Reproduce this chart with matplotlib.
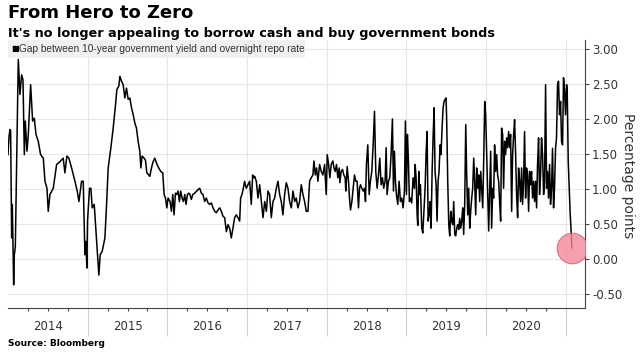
import matplotlib.pyplot as plt
from matplotlib.patches import Rectangle
from matplotlib.ticker import FixedLocator, NullFormatter
import matplotlib.transforms as mtransforms

# Gap between 10-year government yield and overnight repo rate (percentage points)
years = [
    2014.000, 2014.013, 2014.025, 2014.033, 2014.042, 2014.046, 2014.054, 2014.063, 2014.071, 2014.079,
    2014.092, 2014.129, 2014.150, 2014.171, 2014.188, 2014.205, 2014.217, 2014.238, 2014.255, 2014.284,
    2014.309, 2014.330, 2014.351, 2014.380, 2014.409, 2014.443, 2014.464, 2014.489, 2014.505, 2014.526,
    2014.568, 2014.610, 2014.652, 2014.693, 2014.714, 2014.739, 2014.764, 2014.798, 2014.840, 2014.869,
    2014.890, 2014.923, 2014.944, 2014.965, 2014.977, 2014.990,
    2014.998, 2015.023, 2015.040, 2015.057, 2015.082, 2015.099, 2015.124, 2015.140, 2015.157, 2015.182,
    2015.216, 2015.237, 2015.257, 2015.291, 2015.320, 2015.349, 2015.366, 2015.391, 2015.404, 2015.424,
    2015.445, 2015.466, 2015.487, 2015.508, 2015.529, 2015.550, 2015.571, 2015.592, 2015.612, 2015.633,
    2015.654, 2015.667, 2015.683, 2015.708, 2015.725, 2015.742, 2015.759, 2015.780, 2015.800, 2015.821,
    2015.842, 2015.863, 2015.892, 2015.917, 2015.942, 2015.959, 2015.976, 2015.993, 2016.009, 2016.034,
    2016.051, 2016.068,
    2016.084, 2016.101, 2016.117, 2016.134, 2016.151, 2016.167, 2016.184, 2016.201, 2016.218, 2016.234,
    2016.251, 2016.268, 2016.284, 2016.301, 2016.318, 2016.343, 2016.368, 2016.385, 2016.406, 2016.426,
    2016.447, 2016.468, 2016.489, 2016.510, 2016.531, 2016.552, 2016.573, 2016.594, 2016.614, 2016.635,
    2016.656, 2016.677, 2016.698, 2016.719, 2016.740, 2016.761, 2016.781, 2016.802, 2016.823, 2016.844,
    2016.865, 2016.886, 2016.907, 2016.919, 2016.936, 2016.953, 2016.969, 2016.990, 2017.011, 2017.032,
    2017.053, 2017.070, 2017.086,
    2017.095, 2017.116, 2017.137, 2017.158, 2017.179, 2017.200, 2017.221, 2017.242, 2017.262, 2017.283,
    2017.304, 2017.325, 2017.346, 2017.367, 2017.388, 2017.409, 2017.429, 2017.450, 2017.471, 2017.492,
    2017.513, 2017.534, 2017.555, 2017.576, 2017.597, 2017.617, 2017.638, 2017.659, 2017.680, 2017.701,
    2017.722, 2017.743, 2017.764, 2017.785, 2017.805, 2017.826, 2017.839, 2017.856, 2017.872, 2017.889,
    2017.910, 2017.931, 2017.952, 2017.973, 2017.993, 2018.006, 2018.023, 2018.039, 2018.056, 2018.077,
    2018.090,
    2018.106, 2018.122, 2018.139, 2018.156, 2018.164, 2018.181, 2018.198, 2018.214, 2018.231, 2018.239,
    2018.256, 2018.273, 2018.285, 2018.298, 2018.315, 2018.331, 2018.348, 2018.365, 2018.381, 2018.398,
    2018.411, 2018.423, 2018.440, 2018.457, 2018.473, 2018.486, 2018.498, 2018.515, 2018.532, 2018.548,
    2018.565, 2018.582, 2018.599, 2018.615, 2018.632, 2018.649, 2018.665, 2018.682, 2018.699, 2018.715,
    2018.732, 2018.745, 2018.757, 2018.774, 2018.791, 2018.807, 2018.824, 2018.837, 2018.849, 2018.862,
    2018.874, 2018.891, 2018.908, 2018.924, 2018.941, 2018.958, 2018.975, 2018.987, 2019.000, 2019.012,
    2019.025, 2019.037, 2019.050, 2019.066, 2019.083, 2019.100,
    2019.109, 2019.121, 2019.134, 2019.142, 2019.155, 2019.167, 2019.175, 2019.192, 2019.205, 2019.217,
    2019.234, 2019.246, 2019.259, 2019.272, 2019.284, 2019.297, 2019.309, 2019.322, 2019.334, 2019.347,
    2019.359, 2019.372, 2019.384, 2019.397, 2019.409, 2019.422, 2019.434, 2019.447, 2019.460, 2019.472,
    2019.485, 2019.497, 2019.505, 2019.518, 2019.531, 2019.543, 2019.556, 2019.568, 2019.581, 2019.593,
    2019.606, 2019.618, 2019.631, 2019.643, 2019.656, 2019.668, 2019.681, 2019.693, 2019.706, 2019.718,
    2019.731, 2019.744, 2019.756, 2019.769, 2019.781, 2019.794, 2019.806, 2019.819, 2019.831, 2019.844,
    2019.856, 2019.869, 2019.881, 2019.894, 2019.906, 2019.919, 2019.932, 2019.944, 2019.957, 2019.969,
    2019.982, 2019.994, 2020.007, 2020.019, 2020.032, 2020.044, 2020.057, 2020.069, 2020.082, 2020.094,
    2020.106, 2020.119, 2020.132, 2020.144, 2020.157, 2020.169, 2020.182, 2020.194, 2020.207, 2020.219,
    2020.232, 2020.244, 2020.257, 2020.269, 2020.282, 2020.294, 2020.307, 2020.320, 2020.332, 2020.345,
    2020.357, 2020.370, 2020.382, 2020.395, 2020.407, 2020.420, 2020.432, 2020.445, 2020.457, 2020.470,
    2020.482, 2020.495, 2020.507, 2020.520, 2020.533, 2020.545, 2020.558, 2020.570, 2020.583, 2020.595,
    2020.608, 2020.620, 2020.633, 2020.645, 2020.658, 2020.670, 2020.683, 2020.695, 2020.708, 2020.721,
    2020.733, 2020.746, 2020.758, 2020.771, 2020.783, 2020.796, 2020.808, 2020.821, 2020.833, 2020.846,
    2020.858, 2020.871, 2020.883, 2020.896, 2020.908, 2020.921, 2020.934, 2020.946, 2020.959, 2020.971,
    2020.984, 2020.996, 2021.009, 2021.017, 2021.030, 2021.042, 2021.055, 2021.067, 2021.076,
]
gap = [
    1.49, 1.75, 1.85, 1.83, 0.87, 0.30, 0.78, 0.20, -0.37, 0.05,
    0.18, 2.85, 2.35, 2.63, 2.56, 1.49, 1.97, 1.54, 1.78, 2.49,
    1.97, 2.01, 1.78, 1.68, 1.49, 1.44, 1.11, 1.01, 0.68, 0.92,
    1.01, 1.35, 1.39, 1.44, 1.23, 1.47, 1.44, 1.30, 1.11, 0.97,
    0.82, 1.11, 1.11, 0.06, 0.25, -0.13,
    0.54, 1.01, 1.01, 0.73, 0.78, 0.49, 0.06, -0.23, 0.06, 0.11,
    0.30, 0.78, 1.30, 1.59, 1.87, 2.20, 2.42, 2.47, 2.61, 2.54,
    2.49, 2.30, 2.44, 2.28, 2.30, 2.16, 2.06, 1.94, 1.87, 1.68,
    1.54, 1.30, 1.47, 1.44, 1.41, 1.23, 1.21, 1.18, 1.30, 1.39,
    1.44, 1.37, 1.30, 1.25, 1.23, 0.92, 0.87, 0.73, 0.87, 0.82,
    0.68, 0.92,
    0.63, 0.94, 0.92, 0.97, 0.82, 0.97, 0.87, 0.82, 0.92, 0.78,
    0.92, 0.94, 0.92, 0.85, 0.92, 0.94, 0.97, 0.99, 1.01, 0.94,
    0.92, 0.82, 0.87, 0.80, 0.78, 0.80, 0.73, 0.68, 0.66, 0.70,
    0.73, 0.68, 0.61, 0.59, 0.39, 0.49, 0.44, 0.30, 0.44, 0.59,
    0.63, 0.59, 0.54, 0.87, 0.92, 1.01, 1.11, 1.01, 1.06, 1.11,
    0.78, 1.20, 1.16,
    1.18, 1.11, 0.87, 1.06, 0.82, 0.59, 0.82, 0.68, 0.97, 0.92,
    0.59, 0.82, 0.87, 1.01, 1.11, 0.92, 0.82, 0.63, 0.92, 1.09,
    1.01, 0.82, 0.73, 0.97, 0.82, 0.87, 0.73, 0.82, 1.06, 0.92,
    0.82, 0.68, 0.68, 1.11, 1.16, 1.20, 1.40, 1.20, 1.30, 1.11,
    1.35, 1.25, 1.20, 1.35, 0.92, 1.49, 1.35, 1.16, 1.35, 1.40,
    1.30,
    1.25, 1.35, 1.16, 1.30, 1.09, 1.25, 1.28, 1.20, 1.16, 0.97,
    1.32, 1.11, 0.87, 0.70, 0.82, 1.01, 1.20, 1.11, 1.11, 0.73,
    1.01, 1.06, 1.01, 0.97, 1.01, 0.82, 1.35, 1.63, 0.92, 1.11,
    1.25, 1.63, 2.11, 1.25, 1.01, 1.20, 1.44, 1.06, 1.16, 1.01,
    1.11, 1.59, 0.92, 1.11, 1.16, 1.49, 2.00, 0.97, 1.54, 1.11,
    0.92, 0.78, 1.11, 0.82, 0.87, 0.73, 0.97, 1.97, 0.92, 1.78,
    1.40, 0.82, 0.87, 0.80, 1.16, 1.01,
    1.35, 1.16, 0.63, 0.48, 1.25, 0.92, 1.06, 0.44, 0.37, 0.63,
    1.01, 1.49, 1.82, 0.54, 0.63, 0.82, 0.44, 1.25, 1.73, 2.16,
    1.25, 1.06, 0.54, 1.11, 1.25, 1.63, 1.49, 1.87, 2.16, 2.25,
    2.28, 2.30, 1.97, 1.11, 0.49, 0.33, 0.68, 0.54, 0.49, 0.82,
    0.35, 0.33, 0.44, 0.49, 0.42, 0.58, 0.44, 0.54, 0.73, 0.35,
    0.78, 1.92, 1.20, 0.63, 1.01, 0.44, 0.68, 0.87, 1.01, 1.44,
    1.11, 0.63, 1.30, 1.01, 1.20, 0.82, 1.25, 1.01, 0.73, 1.40,
    2.25, 2.06, 1.49, 1.01, 0.40, 0.92, 1.54, 0.44, 1.01, 0.87,
    1.63, 1.25, 1.49, 1.20, 1.11, 0.82, 0.54, 1.87, 1.78, 1.01,
    1.68, 1.49, 1.73, 1.59, 1.82, 1.59, 1.78, 0.68, 1.49, 1.78,
    1.99, 1.49, 0.92, 0.59, 1.30, 1.11, 0.82, 1.30, 0.78, 1.11,
    1.82, 0.87, 1.30, 1.20, 0.68, 1.25, 1.06, 1.25, 0.87, 1.11,
    0.82, 1.11, 0.73, 1.35, 1.73, 0.92, 1.20, 1.73, 1.49, 0.92,
    1.11, 2.49, 1.01, 1.25, 0.87, 1.35, 0.78, 1.01, 1.58, 0.73,
    1.01, 1.58, 1.73, 2.49, 2.54, 2.06, 2.25, 1.68, 1.63, 2.59,
    2.40, 2.06, 2.49, 2.44, 1.40, 1.01, 0.63, 0.39, 0.16,
]

year_starts = [2014, 2015, 2016, 2017, 2018, 2019, 2020, 2021]
year_labels = ['2014', '2015', '2016', '2017', '2018', '2019', '2020']
y_ticks = [-0.5, 0.0, 0.5, 1.0, 1.5, 2.0, 2.5, 3.0]

fig = plt.figure(figsize=(6.4, 3.56), dpi=100)
ax = fig.add_axes([0.0125, 0.135, 0.9015, 0.753])

ax.plot(years, gap, color='black', lw=1.1, zorder=3)
ax.plot(years[-1], gap[-1], 'o', ms=22, mfc='#f4899a', mec='#e05a6c',
        mew=0.8, alpha=0.8, zorder=4)

ax.set_xlim(2014.0, 2021.24)
ax.set_ylim(-0.70, 3.13)

# grid
for y in y_ticks:
    ax.axhline(y, color='#e6e6e6', lw=0.8, zorder=1)
for x in year_starts[1:]:
    ax.axvline(x, color='#e6e6e6', lw=0.8, zorder=1)

# spines
for s in ['left', 'top']:
    ax.spines[s].set_visible(False)
for s in ['right', 'bottom']:
    ax.spines[s].set_color('#444444')
    ax.spines[s].set_linewidth(0.8)

# y axis on right
ax.yaxis.tick_right()
ax.set_yticks(y_ticks)
ax.set_yticklabels(['%.2f' % v for v in y_ticks])
ax.tick_params(axis='y', which='major', length=3, width=0.8, color='#444444',
               labelsize=8.5, pad=2, labelcolor='#333333')

# x axis: long separators at year starts, short quarter ticks
ax.xaxis.set_major_locator(FixedLocator(year_starts[1:]))
ax.xaxis.set_major_formatter(NullFormatter())
quarters = [y + q for y in year_starts[:-1] for q in (0.25, 0.5, 0.75)]
ax.xaxis.set_minor_locator(FixedLocator(quarters))
ax.tick_params(axis='x', which='major', length=20, width=0.8, color='#d0d0d0')
ax.tick_params(axis='x', which='minor', length=2.5, width=0.8, color='#444444')

trans = mtransforms.blended_transform_factory(ax.transData, ax.transAxes)
for y0, lab in zip(year_starts, year_labels):
    ax.text(y0 + 0.5, -0.068, lab, transform=trans, ha='center', va='center',
            fontsize=8.5, color='#333333')

# legend band
ax.add_patch(Rectangle((0, 0.933), 0.515, 0.067, transform=ax.transAxes,
                       facecolor='#f0f0f0', edgecolor='none', zorder=2))
ax.text(0.006, 0.966, '\u25a0', transform=ax.transAxes, ha='left', va='center',
        fontsize=6, color='black', zorder=5)
ax.text(0.019, 0.966, 'Gap between 10-year government yield and overnight repo rate',
        transform=ax.transAxes, ha='left', va='center', fontsize=7.3,
        family=['Liberation Sans Narrow', 'Liberation Sans'], color='#333333', zorder=5)

fig.text(0.981, 0.508, 'Percentage points', rotation=270, ha='center', va='center',
         fontsize=10, color='#333333')

fig.text(0.0125, 0.988, 'From Hero to Zero', fontsize=13, weight='bold', va='top')
fig.text(0.0125, 0.924, "It's no longer appealing to borrow cash and buy government bonds",
         fontsize=9.2, weight='bold', va='top')
fig.text(0.0125, 0.036, 'Source: Bloomberg', fontsize=6.5, weight='bold', va='center')

fig.savefig('out.png', dpi=100)
